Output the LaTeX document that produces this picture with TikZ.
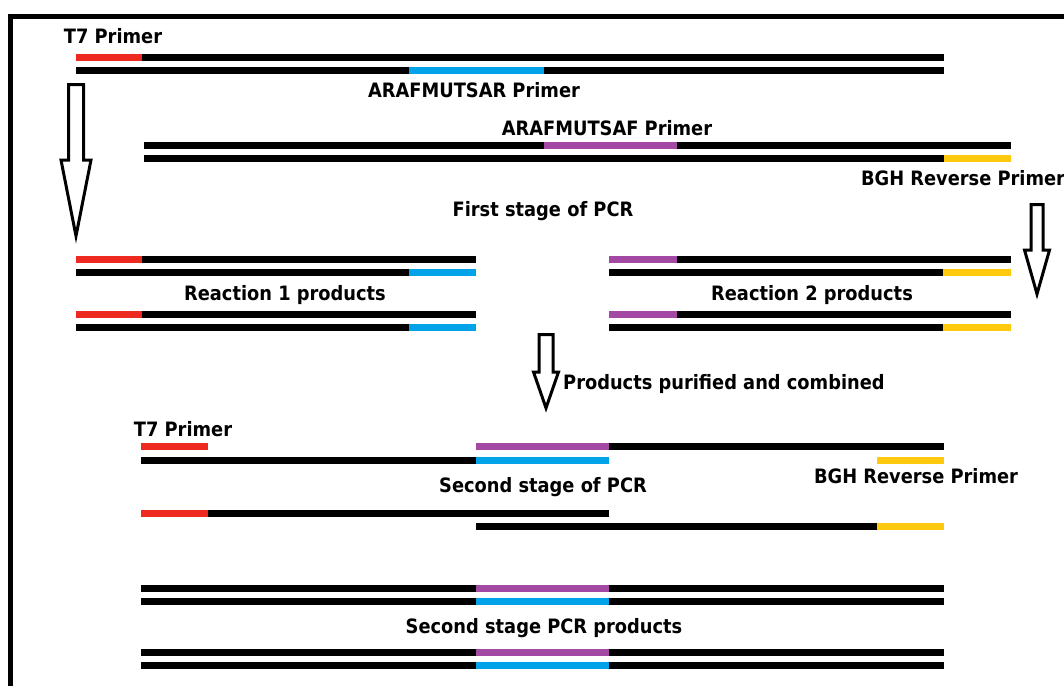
\documentclass[tikz,border=0pt]{standalone}
\usepackage{fontspec}
\setmainfont{DejaVu Sans}[FakeStretch=0.9]
\definecolor{t7red}{HTML}{EE2A20}
\definecolor{arblue}{HTML}{00A2E8}
\definecolor{afpurple}{HTML}{A349A4}
\definecolor{bghgold}{HTML}{FFC90E}
\newcommand{\dna}[4][black]{\draw[strand,draw=#1] (#2,#4) -- (#3,#4);}
\newcommand{\blockarrow}[6]{\draw[hollow] ({#1-#5},#2) -- ({#1+#5},#2) -- ({#1+#5},#3) -- ({#1+#6},#3) -- (#1,#4) -- ({#1-#6},#3) -- ({#1-#5},#3) -- cycle;}
\tikzset{
  strand/.style={line width=7pt},
  lbl/.style={font=\bfseries\fontsize{19.8}{22}\selectfont,inner sep=0pt,anchor=base},
  hollow/.style={draw=black,line width=3pt,fill=white,line join=miter},
  frame/.style={line width=5pt,line join=miter},
}
\begin{document}
\begin{tikzpicture}[x=1pt,y=-1pt]
\useasboundingbox (0,0) rectangle (1064,686);
\draw[frame] (10.5,686) -- (10.5,16.5) -- (1064,16.5);
\dna{76}{944}{57} \dna[t7red]{76}{142}{57}
\dna{76}{944}{70.5} \dna[arblue]{409}{544}{70.5}
\dna{144}{1011}{145.5} \dna[afpurple]{544}{677}{145.5}
\dna{144}{1011}{158.5} \dna[bghgold]{944}{1011}{158.5}
\node[lbl] (t7a) at (113,43) {T7 Primer};
\node[lbl] (arr) at (474,97) {ARAFMUTSAR Primer};
\node[lbl] (arf) at (607,135) {ARAFMUTSAF Primer};
\node[lbl] (bgha) at (963,185) {BGH Reverse Primer};
\node[lbl] (stage1) at (543,216) {First stage of PCR};
\blockarrow{76}{84.5}{160}{236}{7.5}{15}
\blockarrow{1037}{204.5}{250}{294}{6}{12.5}
\dna{76}{476}{259.5} \dna[t7red]{76}{142}{259.5}
\dna{76}{476}{272.5} \dna[arblue]{409}{476}{272.5}
\dna{76}{476}{314} \dna[t7red]{76}{142}{314}
\dna{76}{476}{327.5} \dna[arblue]{409}{476}{327.5}
\node[lbl] (react1) at (285,300) {Reaction 1 products};
\dna{609}{1011}{259.5} \dna[afpurple]{609}{677}{259.5}
\dna{609}{1011}{272.5} \dna[bghgold]{943}{1011}{272.5}
\dna{609}{1011}{314} \dna[afpurple]{609}{677}{314}
\dna{609}{1011}{327.5} \dna[bghgold]{943}{1011}{327.5}
\node[lbl] (react2) at (812,300) {Reaction 2 products};
\blockarrow{546}{334.5}{372}{408}{7}{12.5}
\node[lbl,anchor=base west] (purif) at (563,389) {Products purified and combined};
\node[lbl] (t7b) at (183,436) {T7 Primer};
\dna[t7red]{141}{208}{446}
\dna{609}{944}{446} \dna[afpurple]{476}{609}{446}
\dna{141}{476}{460} \dna[arblue]{476}{609}{460}
\dna[bghgold]{877}{944}{460}
\node[lbl] (bghb) at (916,483) {BGH Reverse Primer};
\node[lbl] (stage2) at (543,492) {Second stage of PCR};
\dna{208}{609}{513.5} \dna[t7red]{141}{208}{513.5}
\dna{476}{877}{526.5} \dna[bghgold]{877}{944}{526.5}
\dna{141}{944}{588} \dna[afpurple]{476}{609}{588}
\dna{141}{944}{601.5} \dna[arblue]{476}{609}{601.5}
\node[lbl] (final) at (544,633) {Second stage PCR products};
\dna{141}{944}{652} \dna[afpurple]{476}{609}{652}
\dna{141}{944}{665.5} \dna[arblue]{476}{609}{665.5}
\end{tikzpicture}
\end{document}
